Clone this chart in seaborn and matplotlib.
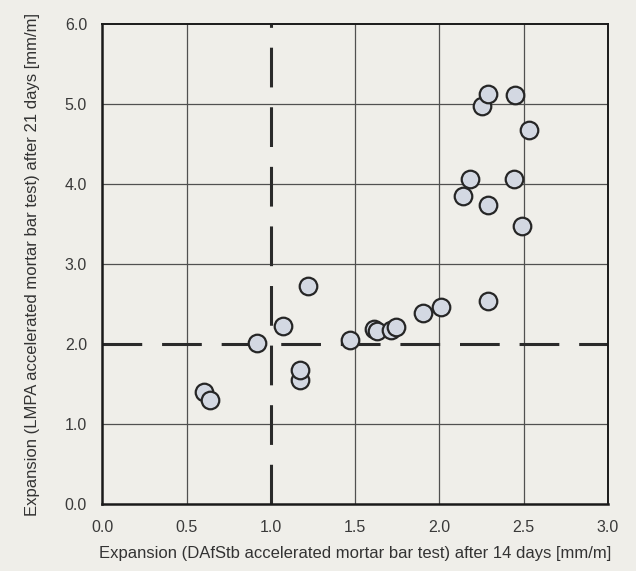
import matplotlib
matplotlib.use("Agg")
import matplotlib.pyplot as plt
import seaborn as sns
import pandas as pd

# Data
x_dafstb = [0.60, 0.64, 0.92, 1.07, 1.17, 1.17, 1.22,
            1.47, 1.61, 1.63, 1.71, 1.74, 1.90, 2.01, 2.29,
            2.14, 2.18, 2.29, 2.25, 2.29, 2.45, 2.44, 2.49, 2.53]
y_lmpa = [1.40, 1.31, 2.02, 2.23, 1.56, 1.68, 2.73,
          2.05, 2.19, 2.16, 2.18, 2.22, 2.39, 2.46, 2.54,
          3.85, 4.07, 3.74, 4.98, 5.13, 5.11, 4.07, 3.48, 4.68]
x_ticks = [0.0, 0.5, 1.0, 1.5, 2.0, 2.5, 3.0]
y_ticks = [0.0, 1.0, 2.0, 3.0, 4.0, 5.0, 6.0]
x_threshold = 1.0
y_threshold = 2.0

df = pd.DataFrame({"x": x_dafstb, "y": y_lmpa})

sns.set_style("white")
plt.rcParams['font.family'] = ['Liberation Sans', 'DejaVu Sans']

bg = "#efeee9"
fig = plt.figure(figsize=(6.36, 5.71), dpi=100, facecolor=bg)
ax = fig.add_axes([0.161, 0.1165, 0.795, 0.8415])
ax.set_facecolor(bg)

ax.set_xlim(0, 3.0)
ax.set_ylim(0, 6.0)
ax.set_xticks(x_ticks)
ax.set_yticks(y_ticks)
ax.set_xticklabels([f"{v:.1f}" for v in x_ticks])
ax.set_yticklabels([f"{v:.1f}" for v in y_ticks])

for v in x_ticks[1:-1]:
    if v != x_threshold:
        ax.axvline(v, color="#505050", lw=0.9, zorder=1)
for v in y_ticks[1:-1]:
    if v != y_threshold:
        ax.axhline(v, color="#505050", lw=0.9, zorder=1)

ax.axvline(x_threshold, color="#2a2a2a", lw=2.2, ls=(0, (13, 6.5)), zorder=2)
ax.axhline(y_threshold, color="#2a2a2a", lw=2.2, ls=(0, (13, 6.5)), zorder=2)

sns.scatterplot(data=df, x="x", y="y", ax=ax, s=160, color="#d3d8e2",
                edgecolor="#262626", linewidth=1.6, zorder=3, legend=False)

for side in ["left", "bottom"]:
    ax.spines[side].set_linewidth(1.8)
    ax.spines[side].set_color("#1a1a1a")
for side in ["top", "right"]:
    ax.spines[side].set_linewidth(1.4)
    ax.spines[side].set_color("#1a1a1a")

ax.tick_params(axis="both", direction="out", length=8, width=1.0,
               color="#333333", labelsize=11.5, labelcolor="#3a3a3a", pad=3)

ax.set_xlabel("Expansion (DAfStb accelerated mortar bar test) after 14 days [mm/m]",
              fontsize=12, color="#333333", labelpad=8)
ax.set_ylabel("Expansion (LMPA accelerated mortar bar test) after 21 days [mm/m]",
              fontsize=12, color="#333333", labelpad=18)

fig.savefig("out.png", dpi=100, facecolor=bg)
